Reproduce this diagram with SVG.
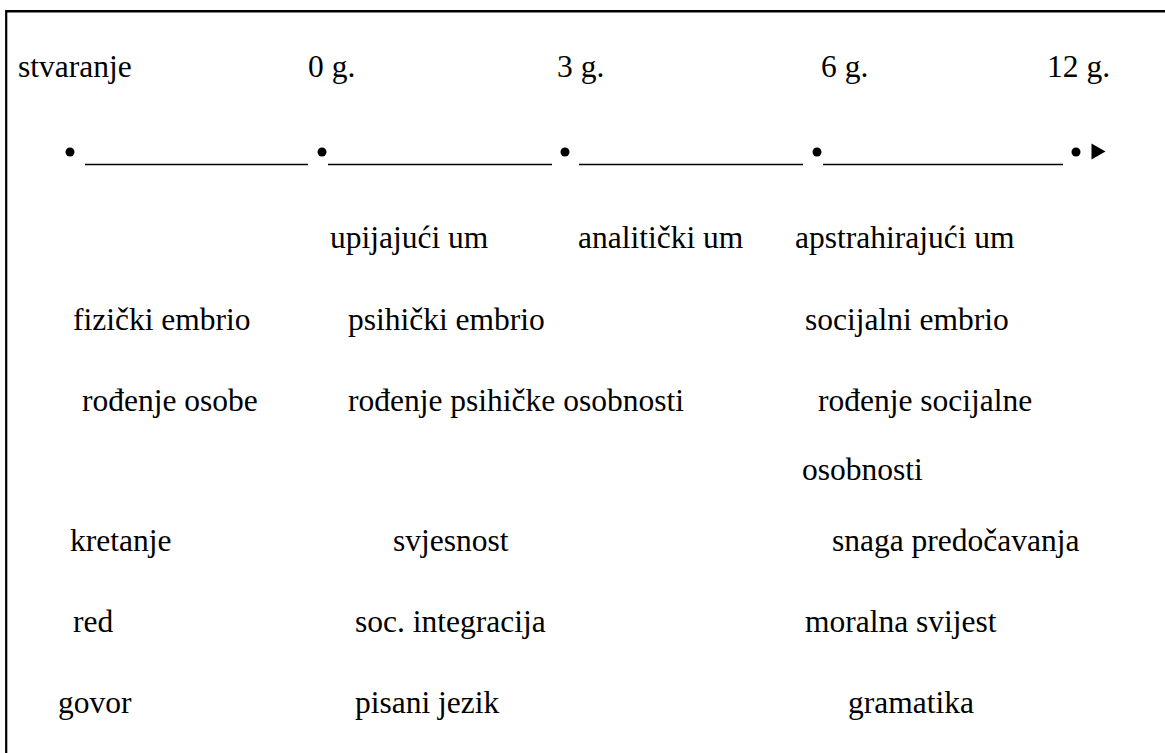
<svg xmlns="http://www.w3.org/2000/svg" width="1165" height="753" viewBox="0 0 1165 753">
<style>
.t{font-family:"Liberation Serif","Times New Roman","DejaVu Serif",serif;font-size:31.5px;fill:#000}
.seg{stroke:#000;stroke-width:1.6;fill:none}
.dot{fill:#000}
</style>
<rect x="0" y="0" width="1165" height="753" fill="#fff"/>
<g id="frame">
<line x1="6.2" y1="11.3" x2="1165" y2="11.3" stroke="#000" stroke-width="2.4"/>
<line x1="6.2" y1="10" x2="6.2" y2="753" stroke="#000" stroke-width="2.2"/>
</g>
<g id="ages">
<text class="t" x="18" y="77">stvaranje</text>
<text class="t" x="308" y="77">0 g.</text>
<text class="t" x="557" y="77">3 g.</text>
<text class="t" x="821" y="77">6 g.</text>
<text class="t" x="1047" y="77">12 g.</text>
</g>
<g id="connectors">
<line class="seg" x1="85" y1="164.5" x2="308" y2="164.5"/>
<line class="seg" x1="328" y1="164.5" x2="552" y2="164.5"/>
<line class="seg" x1="579" y1="164.5" x2="803" y2="164.5"/>
<line class="seg" x1="823" y1="164.5" x2="1063" y2="164.5"/>
<circle class="dot" cx="70" cy="152" r="4.5"/>
<circle class="dot" cx="322" cy="152" r="4.5"/>
<circle class="dot" cx="565" cy="152" r="4.5"/>
<circle class="dot" cx="817" cy="152" r="4.5"/>
<circle class="dot" cx="1076" cy="152" r="4.5"/>
<polygon class="dot" points="1091.5,143.5 1105.5,151.5 1091.5,159.5"/>
</g>
<g id="minds">
<text class="t" x="330" y="248">upijajući um</text>
<text class="t" x="578" y="248">analitički um</text>
<text class="t" x="795" y="248">apstrahirajući um</text>
</g>
<g id="embryos">
<text class="t" x="73" y="330">fizički embrio</text>
<text class="t" x="348" y="330">psihički embrio</text>
<text class="t" x="805" y="330">socijalni embrio</text>
</g>
<g id="births">
<text class="t" x="82" y="411">rođenje osobe</text>
<text class="t" x="348" y="411">rođenje psihičke osobnosti</text>
<text class="t" x="818" y="411">rođenje socijalne</text>
<text class="t" x="802" y="480">osobnosti</text>
</g>
<g id="row-kretanje">
<text class="t" x="70" y="551">kretanje</text>
<text class="t" x="393" y="551">svjesnost</text>
<text class="t" x="832" y="551">snaga predočavanja</text>
</g>
<g id="row-red">
<text class="t" x="73" y="632">red</text>
<text class="t" x="355" y="632">soc. integracija</text>
<text class="t" x="805" y="632">moralna svijest</text>
</g>
<g id="row-govor">
<text class="t" x="58" y="713">govor</text>
<text class="t" x="355" y="713">pisani jezik</text>
<text class="t" x="848" y="713">gramatika</text>
</g>
</svg>
